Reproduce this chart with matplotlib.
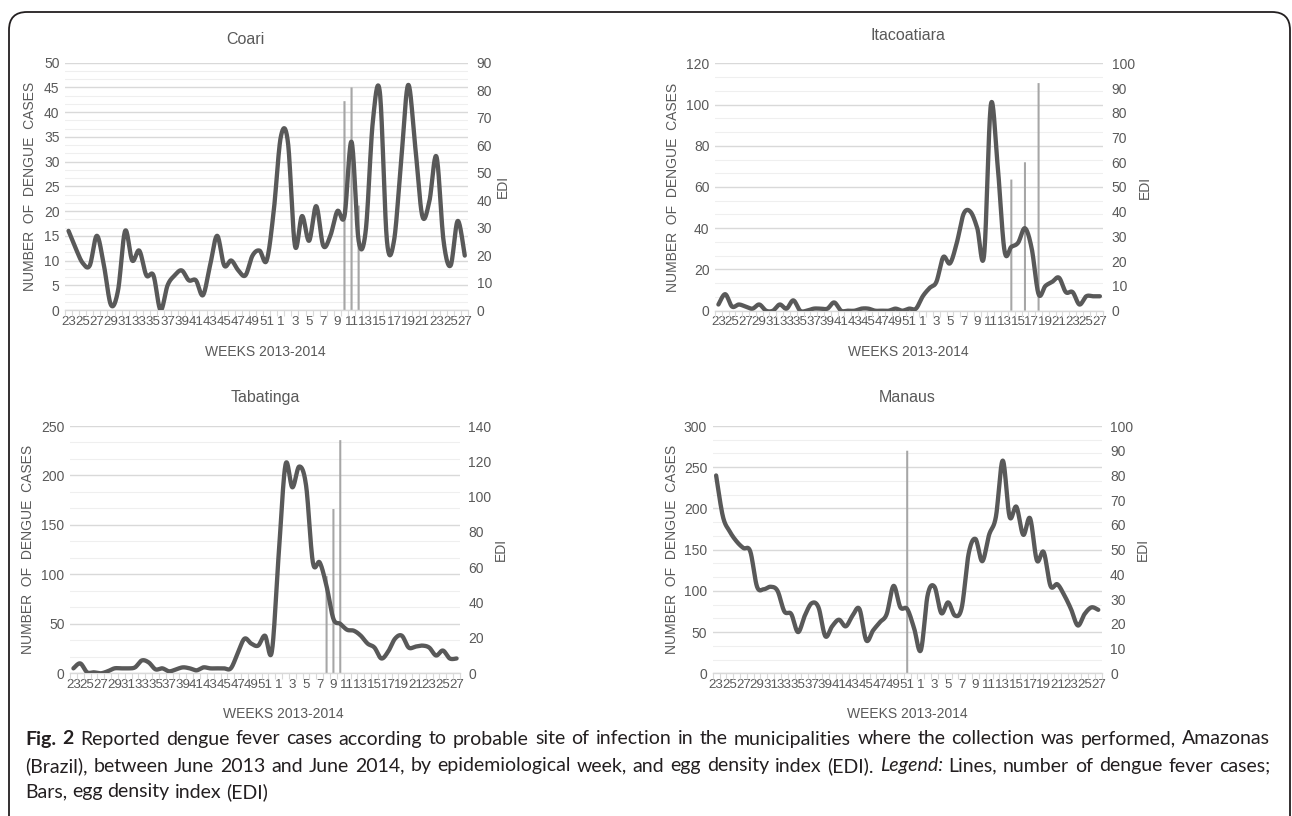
import numpy as np
import matplotlib
matplotlib.use('Agg')
import matplotlib.pyplot as plt
from matplotlib.lines import Line2D
from matplotlib.path import Path
from matplotlib.patches import PathPatch
from matplotlib.transforms import blended_transform_factory

# ---------------- data ----------------
weeks = list(range(23, 53)) + list(range(1, 28))
week_keys = [f"2013-{w}" for w in range(23, 53)] + [f"2014-{w}" for w in range(1, 28)]
tick_labels = [str(w) if k % 2 == 0 else '' for k, w in enumerate(weeks)]

coari_cases = [16, 12.5, 9.5, 9, 15, 9, 1, 4, 16, 10, 12, 7, 7, 0, 5, 7, 8, 6, 6, 3,
               9, 15, 9, 10, 8, 7, 11, 12, 10, 20, 35, 34, 13, 19, 14, 21, 13, 15, 20, 19,
               34, 14, 16, 38, 44, 14, 14, 30, 45.5, 33, 19, 22, 31, 14, 9, 18, 11]
coari_edi_weeks = ["2014-10", "2014-11", "2014-12"]
coari_edi = [76, 81, 38]

itaco_cases = [3, 8, 2, 3, 2, 1, 3, 0, 0, 3, 1, 5, 0, 0, 1, 1, 1, 4, 0, 0,
               0, 1, 1, 0, 0, 0, 1, 0, 1, 1, 7, 11, 14, 26, 23, 33, 47, 48, 40, 27,
               100, 70, 29, 31, 33, 40, 30, 8, 12, 14, 16, 9, 9, 3, 7, 7, 7]
itaco_edi_weeks = ["2014-14", "2014-16", "2014-18"]
itaco_edi = [53, 60, 92]

tabat_cases = [5, 10, 1, 1, 0, 2, 5, 5, 5, 6, 13, 11, 4, 5, 2, 4, 6, 5, 3, 6,
               5, 5, 5, 5, 20, 35, 30, 28, 38, 22, 120, 211, 188, 209, 190, 112, 112, 88, 55, 50,
               44, 43, 38, 30, 26, 15, 22, 35, 38, 26, 27, 28, 26, 18, 23, 15, 15]
tabat_edi_weeks = ["2014-8", "2014-9", "2014-10"]
tabat_edi = [55, 93, 132]

manaus_cases = [240, 190, 172, 160, 152, 148, 105, 102, 105, 100, 75, 72, 50, 70, 85, 80, 45, 57, 65, 57,
                70, 78, 40, 52, 62, 72, 106, 80, 78, 55, 28, 95, 105, 73, 86, 70, 80, 145, 163, 136,
                168, 190, 258, 190, 202, 168, 188, 137, 147, 106, 108, 95, 78, 58, 72, 80, 77]
manaus_edi_weeks = ["2013-51"]
manaus_edi = [90]

# ---------------- style ----------------
W, H = 1292, 816
TXT = '#595959'
LINE_C = '#595959'
BAR_C = '#a6a6a6'
GRID_MAJ = '#d9d9d9'
GRID_MIN = '#efefef'
FONT = ['Liberation Sans', 'Arial', 'DejaVu Sans']
plt.rcParams['font.family'] = FONT

fig = plt.figure(figsize=(W / 100, H / 100), dpi=100)


def smooth(y):
    """Excel-like smoothed line (cubic Bezier through the points)."""
    y = np.asarray(y, float)
    x = np.arange(len(y), dtype=float)
    P = np.column_stack([x, y])
    pts = []
    n = len(P)
    t = np.linspace(0, 1, 20)[:, None]
    for i in range(n - 1):
        p0 = P[max(i - 1, 0)]
        p1 = P[i]
        p2 = P[i + 1]
        p3 = P[min(i + 2, n - 1)]
        c1 = p1 + (p2 - p0) / 6.0
        c2 = p2 - (p3 - p1) / 6.0
        seg = ((1 - t) ** 3) * p1 + 3 * ((1 - t) ** 2) * t * c1 + 3 * (1 - t) * t ** 2 * c2 + t ** 3 * p2
        pts.append(seg if i == 0 else seg[1:])
    pts = np.vstack(pts)
    return pts[:, 0], pts[:, 1]


def px_rect(l, t, r, b):
    return [l / W, 1 - b / H, (r - l) / W, (b - t) / H]


def panel(rect, title, title_xy, xlabel_xy, cases, lmax, lstep, edi_weeks, edi, rmax, rstep,
          ylab_x, edi_x):
    ax = fig.add_axes(px_rect(*rect))
    ax2 = ax.twinx()
    n = len(cases)
    ax.set_xlim(-0.5, n - 0.5)
    ax.set_ylim(0, lmax)
    ax2.set_ylim(0, rmax)
    # gridlines (drawn in ax2 so they sit under bars and line)
    tr = blended_transform_factory(ax2.transAxes, ax.transData)
    minor = lstep / 3.0
    for g in np.arange(0, lmax + 1e-9, minor):
        is_major = abs(round(g / lstep) * lstep - g) < 1e-6
        ax2.add_line(Line2D([0, 1], [g, g], transform=tr,
                            color=GRID_MAJ if is_major else GRID_MIN,
                            lw=1.0 if is_major else 0.8, zorder=0))
    # bars (EDI)
    idx = [week_keys.index(k) for k in edi_weeks]
    bars = ax2.bar(idx, edi, width=0.3, color=BAR_C, zorder=2)
    for b in bars:
        b.set_snap(False)
    # line (cases)
    xs, ys = smooth(cases)
    ax.plot(xs, ys, color=LINE_C, lw=3.1, solid_capstyle='round', zorder=3)
    ax.set_zorder(ax2.get_zorder() + 1)
    ax.patch.set_visible(False)

    for a in (ax, ax2):
        for s in a.spines.values():
            s.set_visible(False)
    ax.spines['bottom'].set_visible(True)
    ax.spines['bottom'].set_color(GRID_MAJ)
    ax.spines['bottom'].set_linewidth(1.0)

    ax.set_yticks(np.arange(0, lmax + 1e-9, lstep))
    ax2.set_yticks(np.arange(0, rmax + 1e-9, rstep))
    ax.tick_params(axis='y', length=0, labelsize=10, labelcolor=TXT, pad=4)
    ax2.tick_params(axis='y', length=0, labelsize=10, labelcolor=TXT, pad=6)
    ax.set_xticks(np.arange(n))
    ax.set_xticklabels(tick_labels)
    ax.set_xticks(np.arange(-0.5, n), minor=True)
    ax.tick_params(axis='x', which='major', length=0, labelsize=9.6, labelcolor=TXT, pad=4)
    ax.tick_params(axis='x', which='minor', length=4, color=GRID_MAJ, width=0.8)

    fig.text(title_xy[0] / W, 1 - title_xy[1] / H, title, ha='center', va='center',
             fontsize=11.5, color=TXT)
    fig.text(xlabel_xy[0] / W, 1 - xlabel_xy[1] / H, 'WEEKS 2013-2014', ha='center', va='center',
             fontsize=10, color=TXT)
    yl_y = (rect[1] + rect[3]) / 2
    fig.text(ylab_x / W, 1 - yl_y / H, 'NUMBER  OF  DENGUE  CASES', rotation=90, ha='center',
             va='center', fontsize=10, color=TXT)
    fig.text(edi_x / W, 1 - yl_y / H, 'EDI', rotation=90, ha='center', va='center',
             fontsize=10, color=TXT)
    return ax, ax2


panel((65, 62.7, 468.3, 310), 'Coari', (245, 40), (265, 352), coari_cases, 50, 5,
      coari_edi_weeks, coari_edi, 90, 10, 30, 503)
panel((715, 63.3, 1103.3, 310.7), 'Itacoatiara', (908, 35), (908, 352), itaco_cases, 120, 20,
      itaco_edi_weeks, itaco_edi, 100, 10, 673, 1145)
panel((70, 426, 460, 673.3), 'Tabatinga', (265, 397), (283, 714), tabat_cases, 250, 50,
      tabat_edi_weeks, tabat_edi, 140, 20, 28, 501)
panel((712.7, 426, 1101.7, 673.3), 'Manaus', (907, 397), (907, 714), manaus_cases, 300, 50,
      manaus_edi_weeks, manaus_edi, 100, 10, 672, 1143)

# ---------------- frame ----------------
r = 18
verts = [(9, H), (9, 12 + r), (9, 12), (9 + r, 12), (1290 - r, 12), (1290, 12), (1290, 12 + r), (1290, H)]
codes = [Path.MOVETO, Path.LINETO, Path.CURVE3, Path.CURVE3, Path.LINETO, Path.CURVE3, Path.CURVE3, Path.LINETO]
vf = [(x / W, 1 - y / H) for x, y in verts]
fig.patches.append(PathPatch(Path(vf, codes), transform=fig.transFigure, fill=False,
                             edgecolor='#231f20', lw=1.3))

# ---------------- caption (justified) ----------------
CAP_FONT = ['Lato', 'Liberation Sans', 'DejaVu Sans']
CAP_C = '#231f20'
renderer = fig.canvas.get_renderer()

line1 = [('Fig.', 'bold', 'normal'), ('2', 'bold', 'normal')] + \
    [(w, 'normal', 'normal') for w in
     'Reported dengue fever cases according to probable site of infection in the municipalities where the collection was performed, Amazonas'.split()]
line2 = [(w, 'normal', 'normal') for w in
         '(Brazil), between June 2013 and June 2014, by epidemiological week, and egg density index (EDI).'.split()] + \
    [('Legend:', 'normal', 'italic')] + \
    [(w, 'normal', 'normal') for w in 'Lines, number of dengue fever cases;'.split()]
line3 = [(w, 'normal', 'normal') for w in 'Bars, egg density index (EDI)'.split()]


def measure(words, size):
    tot = 0.0
    for w, wt, st in words:
        t = fig.text(0, 0, w, fontsize=size, family=CAP_FONT, weight=wt, style=st)
        tot += t.get_window_extent(renderer).width
        t.remove()
    a = fig.text(0, 0, 'a a', fontsize=size, family=CAP_FONT)
    b = fig.text(0, 0, 'aa', fontsize=size, family=CAP_FONT)
    sw = a.get_window_extent(renderer).width - b.get_window_extent(renderer).width
    a.remove()
    b.remove()
    return tot, sw


X0, X1 = 25, 1270
s0 = 13.0
tot, sw = measure(line1, s0)
nat = tot + sw * (len(line1) - 1)
CAP_SIZE = min(14.0, s0 * (X1 - X0) / nat)


def place_line(words, y, x0, x1=None):
    tot, sw = measure(words, CAP_SIZE)
    gap = (x1 - x0 - tot) / (len(words) - 1) if x1 is not None else sw
    x = x0
    for w, wt, st in words:
        t = fig.text(x / W, 1 - y / H, w, fontsize=CAP_SIZE, family=CAP_FONT, weight=wt, style=st,
                     color=CAP_C, ha='left', va='center')
        x += t.get_window_extent(renderer).width + gap


place_line(line1, 739, X0, X1)
place_line(line2, 766, X0, X1)
place_line(line3, 792, X0)

fig.savefig('out.png', dpi=100)
